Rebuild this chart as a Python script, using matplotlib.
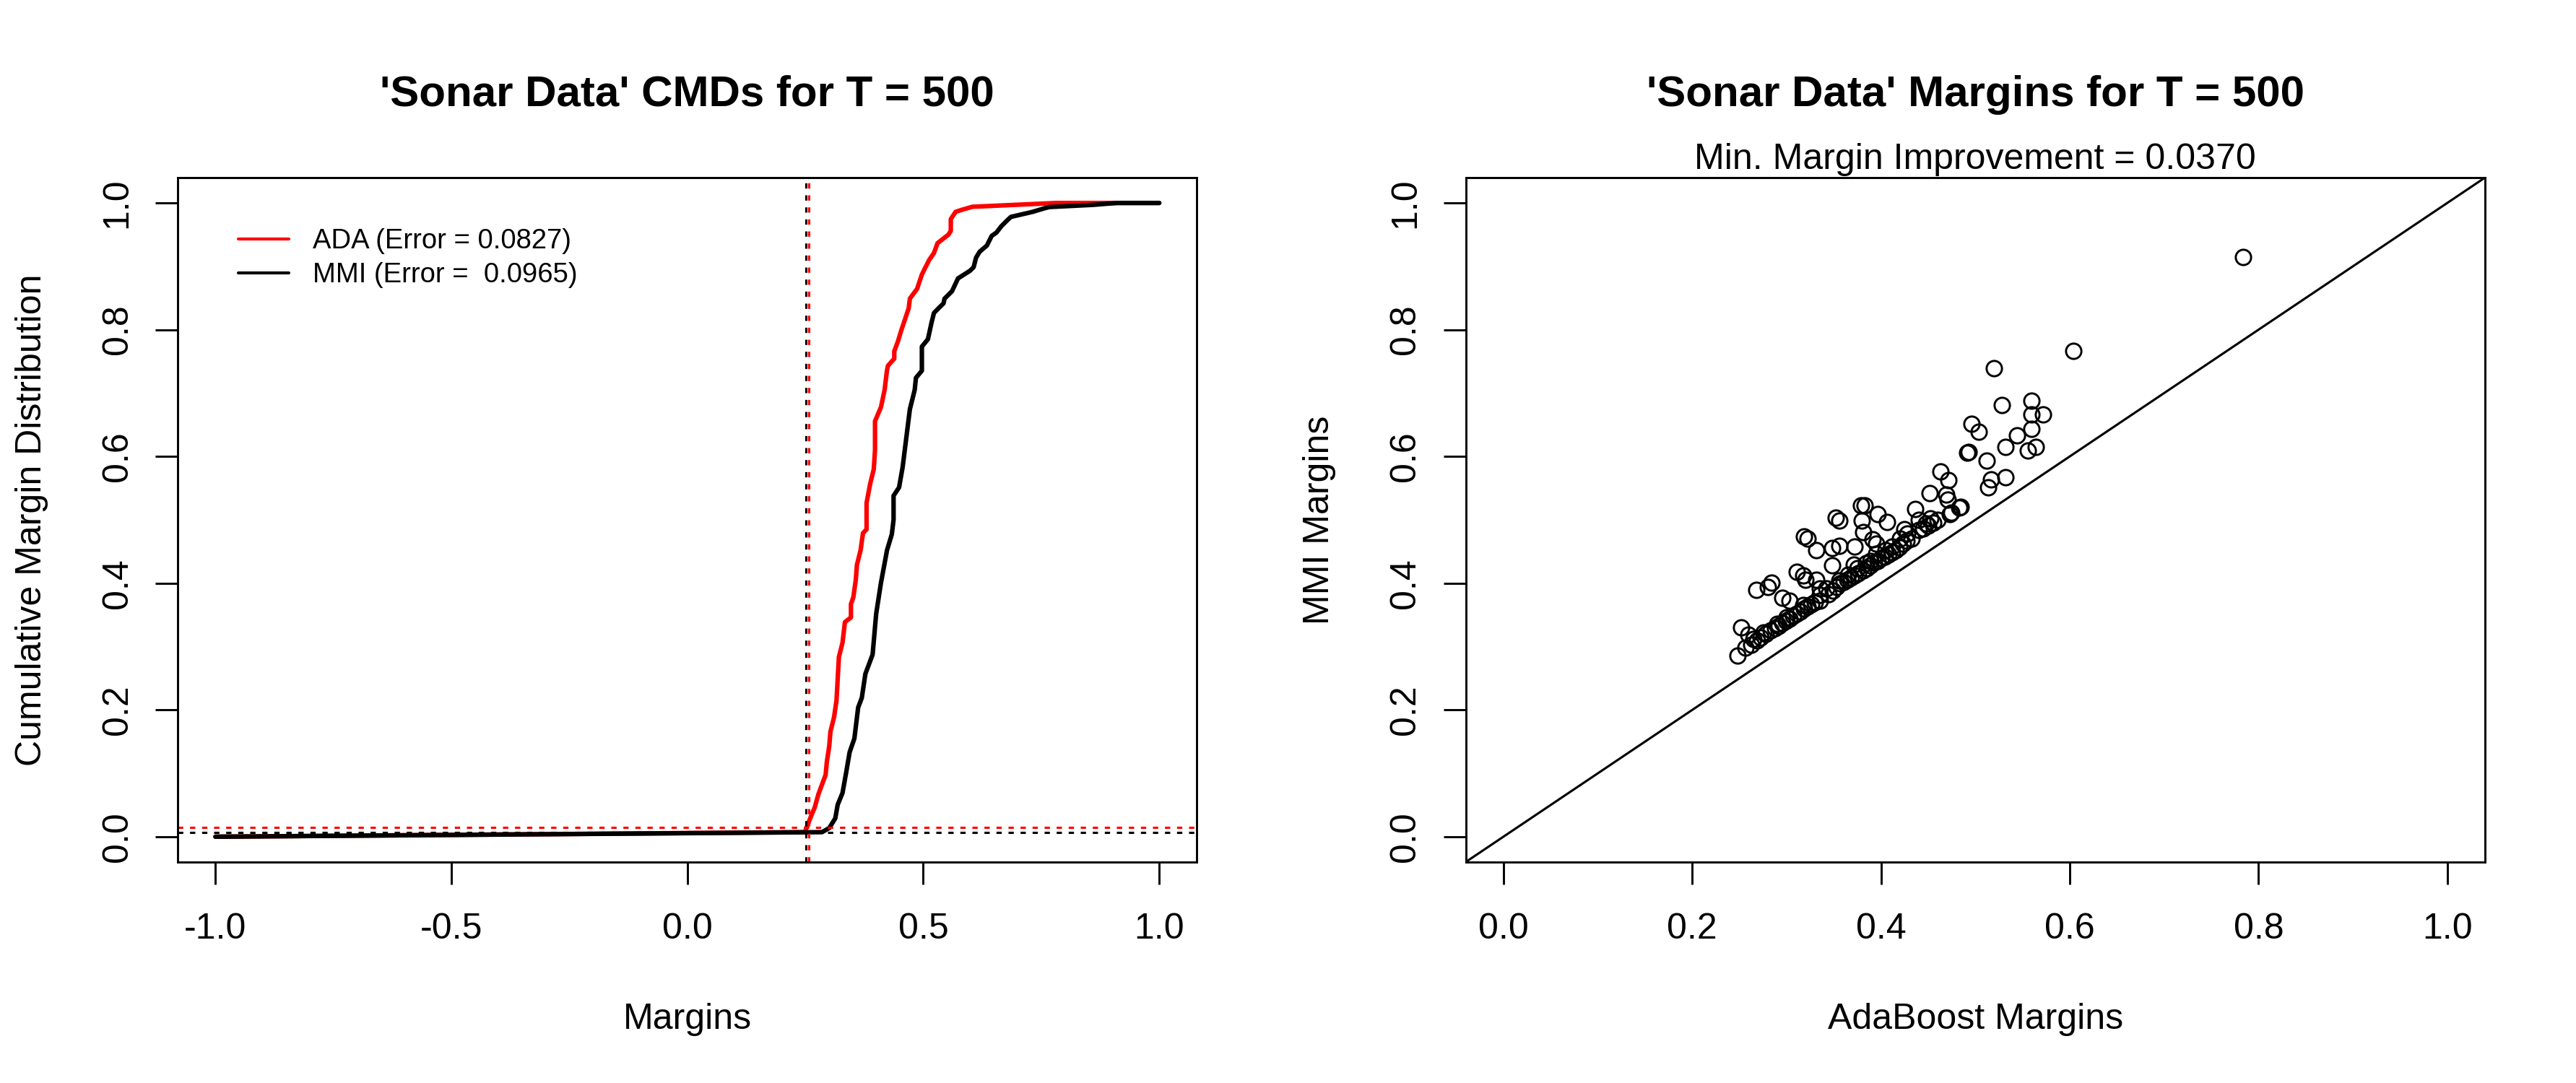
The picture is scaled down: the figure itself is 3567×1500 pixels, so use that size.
import matplotlib
matplotlib.use("Agg")
import matplotlib.pyplot as plt

plt.rcParams['font.family'] = ['Liberation Sans', 'DejaVu Sans']
plt.rcParams['axes.unicode_minus'] = False
plt.rcParams['lines.scale_dashes'] = False

# ---------------- data ----------------
# Cumulative margin distribution curves (vertices)
ada_cmd_x = [-1.0, 0.249, 0.2625, 0.270, 0.2778, 0.293, 0.2956, 0.3007, 0.3033, 0.311,
             0.3161, 0.3186, 0.3212, 0.3288, 0.3339, 0.3467, 0.3467, 0.3518, 0.3569, 0.3594,
             0.3671, 0.3722, 0.3798, 0.3798, 0.3875, 0.395, 0.3977, 0.3977, 0.4104, 0.418,
             0.423, 0.425, 0.4385, 0.4385, 0.446, 0.4538, 0.4589, 0.4691, 0.4716, 0.4869,
             0.492, 0.497, 0.5022, 0.5124, 0.5226, 0.5302, 0.5532, 0.5583, 0.5583, 0.5685,
             0.5838, 0.6041, 0.7827, 1.0]
ada_cmd_y = [0.0, 0.0072, 0.033, 0.0463, 0.0672, 0.0976, 0.118, 0.143, 0.166, 0.189,
             0.215, 0.249, 0.2836, 0.306, 0.3386, 0.346, 0.367, 0.378, 0.405, 0.429,
             0.452, 0.479, 0.485, 0.5267, 0.557, 0.5797, 0.610, 0.6557, 0.678, 0.705,
             0.7354, 0.743, 0.7544, 0.766, 0.781, 0.80, 0.8112, 0.834, 0.8492, 0.8645,
             0.876, 0.887, 0.895, 0.91, 0.921, 0.9366, 0.95, 0.956, 0.9746, 0.986,
             0.9897, 0.994, 1.0, 1.0]
mmi_cmd_x = [-1.0, 0.2854, 0.3007, 0.3135, 0.3186, 0.3288, 0.3365, 0.344, 0.354, 0.362,
             0.3697, 0.3773, 0.3926, 0.4002, 0.4104, 0.418, 0.4231, 0.4333, 0.437, 0.437,
             0.4487, 0.4563, 0.4614, 0.4716, 0.4818, 0.4844, 0.497, 0.497, 0.5098, 0.5175,
             0.5226, 0.5429, 0.545, 0.5608, 0.5736, 0.599, 0.6067, 0.6118, 0.6195, 0.6347,
             0.6449, 0.655, 0.6653, 0.6754, 0.6856, 0.7318, 0.7572, 0.7674, 0.8592, 0.91, 1.0]
mmi_cmd_y = [0.0, 0.0072, 0.0137, 0.029, 0.0505, 0.069, 0.101, 0.1336, 0.155, 0.204,
             0.2191, 0.257, 0.2874, 0.352, 0.401, 0.4313, 0.452, 0.4772, 0.50, 0.538,
             0.5512, 0.5835, 0.614, 0.6746, 0.705, 0.724, 0.7354, 0.7733, 0.785, 0.8113,
             0.8265, 0.8417, 0.849, 0.8607, 0.881, 0.893, 0.8987, 0.9137, 0.9231, 0.9328,
             0.948, 0.9533, 0.9632, 0.9708, 0.978, 0.986, 0.9917, 0.9936, 0.997, 1.0, 1.0]

# reference lines
vline_mmi = 0.2513
vline_ada = 0.258
hline_mmi = 0.0072
hline_ada = 0.0148

legend_labels = ["ADA (Error = 0.0827)", "MMI (Error =  0.0965)"]

# scatter: AdaBoost margin (x) vs MMI margin (y)
ada_margins = [
    0.2562, 0.2626, 0.2689, 0.2728, 0.2779, 0.2830, 0.2881, 0.2919, 0.2958, 0.2996,
    0.3034, 0.3073, 0.3111, 0.3149, 0.3187, 0.3226, 0.3264, 0.3302, 0.3353, 0.3442,
    0.3493, 0.3531, 0.3570, 0.3608, 0.3646, 0.3685, 0.3723, 0.3761, 0.3812, 0.3850,
    0.3889, 0.3927, 0.3965, 0.4004, 0.4042, 0.4080, 0.4118, 0.4157, 0.4195, 0.4233,
    0.4271, 0.4322, 0.4450, 0.4501, 0.4552, 0.4603, 0.4730, 0.4832,
    0.248, 0.2516, 0.2593, 0.2677, 0.2804, 0.2837, 0.2957, 0.3033, 0.311, 0.3174,
    0.320, 0.3187, 0.3225, 0.3314, 0.3314, 0.348, 0.3557, 0.348, 0.3519, 0.3557,
    0.3722, 0.371, 0.3787, 0.3825, 0.380, 0.3812, 0.3965, 0.4067, 0.3914, 0.3953,
    0.3888, 0.4246, 0.4398, 0.436, 0.4513, 0.4628, 0.4717, 0.4692, 0.4845, 0.4743,
    0.5138, 0.5163, 0.5317, 0.4706,
    0.6036, 0.5197, 0.5278, 0.5597, 0.5597, 0.5717, 0.5597, 0.496, 0.5036, 0.5439,
    0.5317, 0.5643, 0.5559, 0.4916, 0.4926, 0.5118, 0.784,
    0.300, 0.318, 0.335, 0.342, 0.356, 0.365, 0.375, 0.384, 0.395, 0.405,
    0.412, 0.420, 0.428, 0.440, 0.448, 0.452, 0.335, 0.290, 0.276, 0.265]
mmi_margins = [
    0.2988, 0.3026, 0.3101, 0.3147, 0.3197, 0.3254, 0.3292, 0.3329, 0.3375, 0.3405,
    0.3443, 0.3482, 0.3519, 0.3557, 0.3595, 0.3633, 0.3671, 0.3702, 0.3728, 0.3830,
    0.3880, 0.3937, 0.3994, 0.4021, 0.4051, 0.4089, 0.4127, 0.4157, 0.4203, 0.4241,
    0.4279, 0.4324, 0.4354, 0.4393, 0.4423, 0.4450, 0.4487, 0.4525, 0.4564, 0.4621,
    0.4666, 0.4704, 0.4867, 0.4905, 0.4954, 0.5000, 0.5095, 0.5190,
    0.2855, 0.330, 0.3185, 0.390, 0.3937, 0.4014, 0.3766, 0.3728, 0.4184, 0.4125,
    0.405, 0.4734, 0.470, 0.4525, 0.405, 0.4556, 0.459, 0.4279, 0.5038, 0.4983,
    0.4581, 0.4298, 0.5228, 0.5228, 0.4983, 0.4811, 0.5095, 0.4962, 0.4697, 0.4621,
    0.4355, 0.4848, 0.4999, 0.517, 0.5418, 0.576, 0.5627, 0.5399, 0.5209, 0.511,
    0.5512, 0.564, 0.5675, 0.532,
    0.767, 0.739, 0.681, 0.688, 0.666, 0.666, 0.6435, 0.651, 0.6386, 0.633,
    0.6154, 0.6152, 0.609, 0.6063, 0.6073, 0.5938, 0.9146,
    0.346, 0.366, 0.381, 0.392, 0.404, 0.413, 0.424, 0.432, 0.446, 0.452,
    0.458, 0.470, 0.478, 0.484, 0.494, 0.502, 0.392, 0.336, 0.322, 0.312]

min_margin_improvement = "0.0370"
T = 500

x_ticks_left = [-1.0, -0.5, 0.0, 0.5, 1.0]
x_ticks_right = [0.0, 0.2, 0.4, 0.6, 0.8, 1.0]
y_ticks = [0.0, 0.2, 0.4, 0.6, 0.8, 1.0]

# ---------------- figure ----------------
W, H = 3567, 1500
fig = plt.figure(figsize=(W / 300, H / 300), dpi=300)

axw = 1411.5 / W
axh = 948 / H
axb = 306 / H
ax1 = fig.add_axes([246 / W, axb, axw, axh])
ax2 = fig.add_axes([(1783.5 + 246) / W, axb, axw, axh])

dot = (0, (1.75, 2.25))

def style(ax, xticks, xlabel, ylabel, title):
    for s in ax.spines.values():
        s.set_linewidth(0.7)
    ax.set_xticks(xticks)
    ax.set_yticks(y_ticks)
    ax.set_xticklabels([f"{t:.1f}" for t in xticks])
    ax.set_yticklabels([f"{t:.1f}" for t in y_ticks], rotation=90, va='center')
    ax.tick_params(axis='both', direction='out', length=7.4, width=0.7,
                   labelsize=12, top=False, right=False)
    ax.tick_params(axis='x', pad=9.4)
    ax.tick_params(axis='y', pad=7.1)
    ax.set_xlabel(xlabel, fontsize=12, labelpad=19)
    ax.set_ylabel(ylabel, fontsize=12, labelpad=17.5)
    ax.set_title(title, fontsize=14.4, fontweight='bold', pad=23.8)

# ---- left: CMDs ----
ax1.plot(ada_cmd_x, ada_cmd_y, color='#ff0000', lw=1.5, solid_capstyle='round',
         solid_joinstyle='round', label=legend_labels[0])
ax1.plot(mmi_cmd_x, mmi_cmd_y, color='black', lw=1.5, solid_capstyle='round',
         solid_joinstyle='round', label=legend_labels[1])
ax1.axvline(vline_mmi, color='black', lw=0.75, linestyle=dot, dash_capstyle='butt')
ax1.axvline(vline_ada, color='#ff0000', lw=0.75, linestyle=dot, dash_capstyle='butt')
ax1.axhline(hline_mmi, color='black', lw=0.75, linestyle=dot, dash_capstyle='butt')
ax1.axhline(hline_ada, color='#ff0000', lw=0.75, linestyle=dot, dash_capstyle='butt')
ax1.set_xlim(-1.08, 1.08)
ax1.set_ylim(-0.04, 1.04)
style(ax1, x_ticks_left, "Margins", "Cumulative Margin Distribution",
      f"'Sonar Data' CMDs for T = {T}")
leg = ax1.legend(loc='upper left', bbox_to_anchor=(0.0595, 0.9262), frameon=False,
                 fontsize=9.2, borderpad=0, borderaxespad=0, handlelength=1.83,
                 handletextpad=0.85, labelspacing=0.3)
for h in leg.get_lines():
    h.set_linewidth(1.0)

# ---- right: margins scatter ----
ax2.axline((0, 0), (1, 1), color='black', lw=0.75)
ax2.plot(ada_margins, mmi_margins, linestyle='none', marker='o', markersize=5.1,
         markerfacecolor='none', markeredgecolor='black', markeredgewidth=0.7)
ax2.set_xlim(-0.04, 1.04)
ax2.set_ylim(-0.04, 1.04)
style(ax2, x_ticks_right, "AdaBoost Margins", "MMI Margins",
      f"'Sonar Data' Margins for T = {T}")
ax2.annotate(f"Min. Margin Improvement = {min_margin_improvement}", xy=(0.5, 1.0),
             xycoords='axes fraction', xytext=(0, 2.9), textcoords='offset points',
             ha='center', va='baseline', fontsize=12)

fig.savefig("out.png", dpi=300)
